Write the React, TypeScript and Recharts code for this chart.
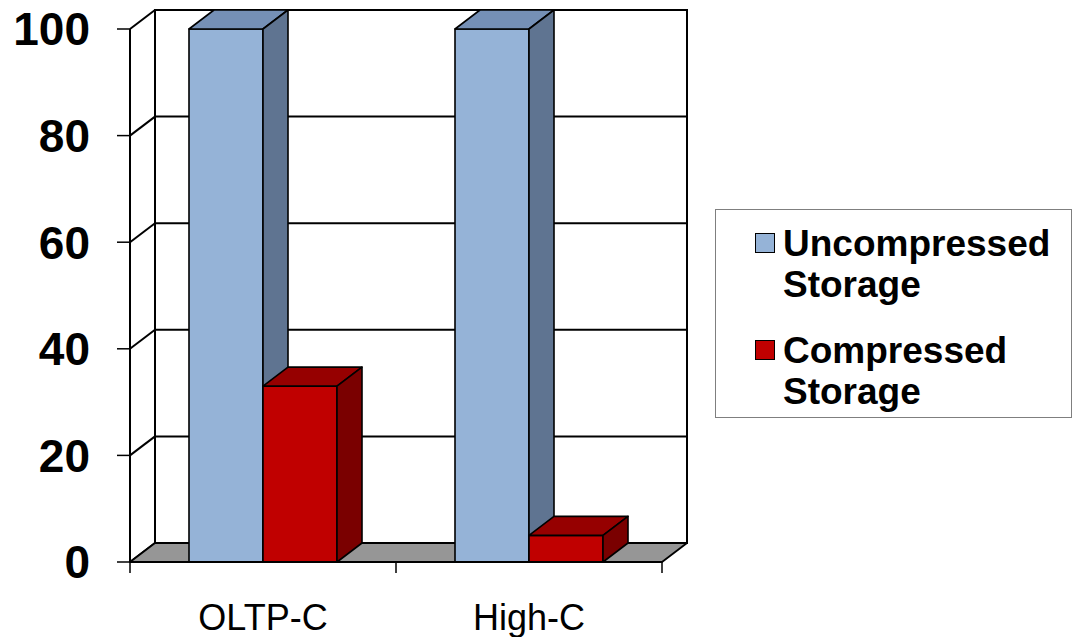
import React from 'react';
import {
  BarChart,
  Bar,
  XAxis,
  YAxis,
  CartesianGrid,
  ReferenceArea,
  Legend,
} from 'recharts';

// Chart data
const categories = ['OLTP-C', 'High-C'];
const uncompressedStorage = [100, 100];
const compressedStorage = [33, 5];
const yTicks = [0, 20, 40, 60, 80, 100];

const data = categories.map((name, i) => ({
  name,
  uncompressed: uncompressedStorage[i],
  compressed: compressedStorage[i],
}));

// 3D depth offset (towards the back wall)
const DX = 25;
const DY = -19;

const FONT = '"Liberation Sans", Arial, Helvetica, sans-serif';

const BLUE = { front: '#95B3D7', top: '#7590B6', side: '#5F7491' };
const RED = { front: '#C00000', top: '#960000', side: '#7A0000' };

type BoxColors = { front: string; top: string; side: string };

// A bar drawn as a box: front face, top face and right side face
const makeBox = (c: BoxColors) => (props: any) => {
  const { x, y, width, height } = props;
  if (width == null || height == null) return <g />;
  const x2 = x + width;
  const yb = y + height;
  return (
    <g stroke="#000" strokeWidth={1.6} strokeLinejoin="round">
      <rect x={x} y={y} width={width} height={height} fill={c.front} />
      <polygon
        points={`${x},${y} ${x + DX},${y + DY} ${x2 + DX},${y + DY} ${x2},${y}`}
        fill={c.top}
      />
      <polygon
        points={`${x2},${y} ${x2 + DX},${y + DY} ${x2 + DX},${yb + DY} ${x2},${yb}`}
        fill={c.side}
      />
    </g>
  );
};

// Back wall outline and grey floor of the plot box
const WallsShape = (props: any) => {
  const { x, y, width, height } = props;
  if (width == null || height == null) return <g />;
  const yb = y + height;
  const xr = x + width;
  return (
    <g>
      <polygon
        points={`${x},${yb} ${xr},${yb} ${xr + DX},${yb + DY} ${x + DX},${yb + DY}`}
        fill="#969696"
        stroke="#000"
        strokeWidth={1.8}
        strokeLinejoin="round"
      />
      <rect
        x={x + DX}
        y={y + DY}
        width={width}
        height={height}
        fill="none"
        stroke="#000"
        strokeWidth={2}
      />
      <line x1={x} y1={y} x2={x} y2={yb} stroke="#000" strokeWidth={2} />
    </g>
  );
};

// Grid line running along the left side wall and across the back wall
const GridLine3D = (props: any) => {
  const { x1, y1, x2 } = props;
  return (
    <g key={props.key} stroke="#000" strokeWidth={2} fill="none">
      <line x1={x1} y1={y1} x2={x1 + DX} y2={y1 + DY} />
      <line x1={x1 + DX} y1={y1 + DY} x2={x2 + DX} y2={y1 + DY} />
    </g>
  );
};

const X_TICK_SIZE = 11;
const X_TICK_MARGIN = 4;

// Category label with tick marks at the category boundaries
const CategoryTick = (props: any) => {
  const { x, y, payload, index, visibleTicksCount } = props;
  const half = payload && payload.offset ? payload.offset : 0;
  const axisY = y - X_TICK_SIZE - X_TICK_MARGIN;
  return (
    <g>
      <line x1={x - half} x2={x - half} y1={axisY} y2={axisY + X_TICK_SIZE} stroke="#000" strokeWidth={1.5} />
      {index === visibleTicksCount - 1 && (
        <line x1={x + half} x2={x + half} y1={axisY} y2={axisY + X_TICK_SIZE} stroke="#000" strokeWidth={1.5} />
      )}
      <text
        x={x}
        y={axisY + 68}
        textAnchor="middle"
        fontFamily={FONT}
        fontSize={36}
        fill="#000"
      >
        {payload.value}
      </text>
    </g>
  );
};

const legendItems = [
  { key: 'uncompressed', label: 'Uncompressed Storage', color: BLUE.front },
  { key: 'compressed', label: 'Compressed Storage', color: RED.front },
];

const LegendBox = (props: any) => {
  const payload: any[] = props.payload && props.payload.length ? props.payload : [];
  const items = legendItems.map((it) => {
    const p = payload.find((e) => e.dataKey === it.key);
    return { label: p && p.value ? p.value : it.label, color: it.color };
  });
  return (
    <div
      style={{
        boxSizing: 'border-box',
        width: 357,
        height: 209,
        border: '1.5px solid #7f7f7f',
        background: '#fff',
        paddingTop: 13,
        fontFamily: FONT,
      }}
    >
      {items.map((it, i) => (
        <div
          key={it.label}
          style={{
            display: 'flex',
            alignItems: 'flex-start',
            marginTop: i === 0 ? 0 : 25,
          }}
        >
          <div
            style={{
              boxSizing: 'border-box',
              width: 20,
              height: 20,
              marginLeft: 39,
              marginTop: 10,
              background: it.color,
              border: '1.5px solid #000',
              flex: 'none',
            }}
          />
          <div
            style={{
              marginLeft: 8,
              width: 285,
              fontSize: 37,
              lineHeight: '41px',
              fontWeight: 'bold',
              color: '#000',
              textAlign: 'left',
              whiteSpace: 'normal',
            }}
          >
            {it.label}
          </div>
        </div>
      ))}
    </div>
  );
};

export default function App() {
  return (
    <div style={{ position: 'absolute', left: 0, top: 0, background: '#fff' }}>
      <BarChart
        width={1072}
        height={637}
        data={data}
        margin={{ top: 29, right: 410, bottom: 35, left: 0 }}
        barGap={0}
        barSize={74}
      >
        <ReferenceArea y1={0} y2={100} shape={WallsShape} ifOverflow="visible" />
        <CartesianGrid vertical={false} horizontal={GridLine3D} />
        <XAxis
          dataKey="name"
          height={40}
          axisLine={{ stroke: '#000', strokeWidth: 1.8 }}
          tickLine={false}
          tickSize={X_TICK_SIZE}
          tickMargin={X_TICK_MARGIN}
          tick={CategoryTick}
          interval={0}
        />
        <YAxis
          width={130}
          domain={[0, 100]}
          ticks={yTicks}
          interval={0}
          axisLine={{ stroke: '#000', strokeWidth: 2 }}
          tickLine={{ stroke: '#000', strokeWidth: 1.5 }}
          tickSize={13}
          tickMargin={27}
          tick={{ fontFamily: FONT, fontSize: 46, fontWeight: 'bold', fill: '#000' }}
        />
        <Legend
          layout="horizontal"
          align="center"
          verticalAlign="middle"
          content={LegendBox}
          wrapperStyle={{ left: 715, top: 209, width: 357, height: 209 }}
        />
        <Bar
          dataKey="uncompressed"
          name="Uncompressed Storage"
          fill={BLUE.front}
          shape={makeBox(BLUE)}
          isAnimationActive={false}
        />
        <Bar
          dataKey="compressed"
          name="Compressed Storage"
          fill={RED.front}
          shape={makeBox(RED)}
          isAnimationActive={false}
        />
      </BarChart>
    </div>
  );
}
